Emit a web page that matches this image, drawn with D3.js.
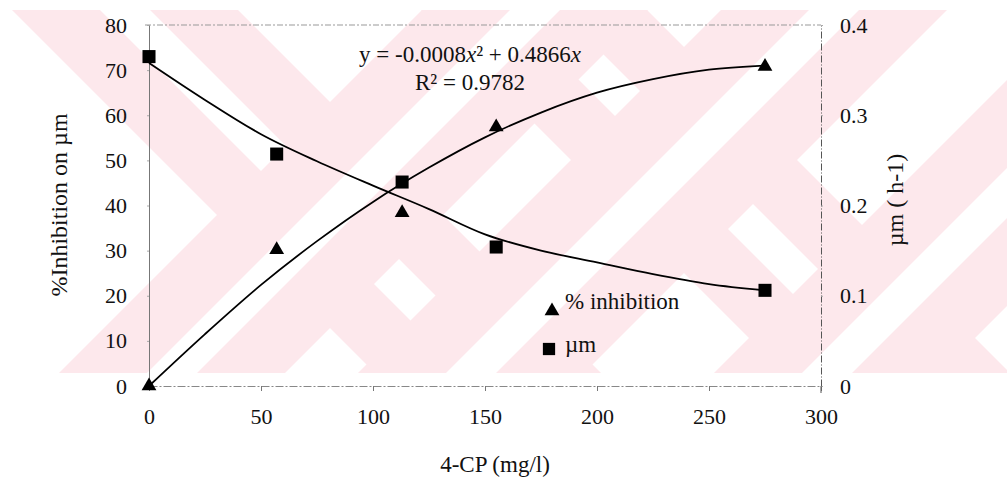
<!DOCTYPE html>
<html>
<head>
<meta charset="utf-8">
<script src="https://cdn.jsdelivr.net/npm/d3@7"></script>
<style>
  html, body { margin: 0; padding: 0; background: #fff; }
  svg { display: block; }
  text { font-family: "Liberation Serif", "Times New Roman", Times, serif; fill: #111; }
</style>
</head>
<body>
<svg id="chart" width="1007" height="485"></svg>
<script>
// ---------------- data ----------------
const concentration = [0, 57, 113, 155, 275];              // 4-CP (mg/l)
const inhibition    = [0, 30.2, 38.4, 57.4, 70.8];         // % inhibition on µm
const muValues      = [0.365, 0.257, 0.226, 0.154, 0.106]; // µm (h-1)

// fitted curves, as drawn in the picture
const inhibTrendX = [0, 25, 50, 75, 100, 125, 150, 175, 200, 225, 250, 275];
const inhibTrendY = [0, 11.5, 22.4, 32.1, 40.8, 48.4, 55.1, 60.6, 65.0, 68.0, 70.1, 71.0];
const muTrendX    = [0, 25, 50, 75, 100, 125, 150, 175, 200, 225, 250, 275];
const muTrendY    = [0.358, 0.317, 0.279, 0.249, 0.222, 0.196, 0.168, 0.150, 0.137, 0.124, 0.113, 0.106];

const xTicks      = [0, 50, 100, 150, 200, 250, 300];
const leftTicks   = [0, 10, 20, 30, 40, 50, 60, 70, 80];
const rightTicks  = [0, 0.1, 0.2, 0.3, 0.4];
const rightTickLabels = ["0", "0.1", "0.2", "0.3", "0.4"];

const xTitle      = "4-CP (mg/l)";
const leftTitle   = "%Inhibition on µm";
const rightTitle  = "µm ( h-1)";
const legendNames = ["% inhibition", "µm"];
const eqLine1     = ["y = -0.0008", "x", "² + 0.4866", "x"];
const eqLine2     = "R² = 0.9782";

// ---------------- setup ----------------
const svg = d3.select("#chart");
const W = 1007;
const FONT = "Liberation Serif, Times New Roman, Times, serif";

// watermark (decorative background)
const pink = "#fde8ec";
const wm = svg.append("g");
svg.append("defs").append("clipPath").attr("id", "wmclip")
  .append("rect").attr("x", 0).attr("y", 10).attr("width", W).attr("height", 363);
wm.attr("clip-path", "url(#wmclip)");
const Y0 = -600, Y1 = 1100;
function bandDown(c, hw) { // centre line x - y = c
  return [[Y0 + c - hw, Y0], [Y0 + c + hw, Y0], [Y1 + c + hw, Y1], [Y1 + c - hw, Y1]];
}
function bandUp(c, hw) {   // centre line x + y = c
  return [[c - Y0 - hw, Y0], [c - Y0 + hw, Y0], [c - Y1 + hw, Y1], [c - Y1 - hw, Y1]];
}
const downBands = [115, 524];
const upBands = [545, 844, 1200];
const poly = d3.line();
downBands.forEach(c => wm.append("path").attr("d", poly(bandDown(c, 113)) + "Z").attr("fill", pink));
downBands.forEach(c => wm.append("path").attr("d", poly(bandDown(c, 25)) + "Z").attr("fill", "#fff"));
upBands.forEach(c => wm.append("path").attr("d", poly(bandUp(c, 113)) + "Z").attr("fill", pink));
upBands.forEach(c => wm.append("path").attr("d", poly(bandUp(c, 25)) + "Z").attr("fill", "#fff"));

// scales
const x  = d3.scaleLinear().domain([0, 300]).range([149, 821]);
const yL = d3.scaleLinear().domain([0, 80]).range([386, 25]);
const yR = d3.scaleLinear().domain([0, 0.4]).range([386, 25]);

// frame line on top
svg.append("line").attr("x1", 145).attr("x2", 821).attr("y1", 25).attr("y2", 25)
  .attr("stroke", "#999").attr("stroke-width", 1).attr("stroke-dasharray", "6,2,2,2");

// bottom axis
const gx = svg.append("g").attr("transform", "translate(0,386)")
  .call(d3.axisBottom(x).tickValues(xTicks).tickSize(5).tickSizeOuter(0).tickPadding(17));
gx.attr("font-family", FONT);
gx.select(".domain").attr("stroke", "#888").attr("stroke-dasharray", "8,2,2,2");
gx.selectAll(".tick line").attr("stroke", "#777");
gx.selectAll(".tick text").attr("font-size", 22).attr("fill", "#111");

// left axis
const gl = svg.append("g").attr("transform", "translate(149,0)")
  .call(d3.axisLeft(yL).tickValues(leftTicks).tickSize(2).tickSizeOuter(0).tickPadding(20));
gl.attr("font-family", FONT);
gl.select(".domain").attr("stroke", "#777");
gl.selectAll(".tick line").attr("stroke", "#aaa");
gl.selectAll(".tick text").attr("font-size", 22).attr("fill", "#111");

// right axis
const gr = svg.append("g").attr("transform", "translate(821,0)")
  .call(d3.axisRight(yR).tickValues(rightTicks).tickFormat((d, i) => rightTickLabels[i])
        .tickSize(2).tickSizeOuter(0).tickPadding(17));
gr.attr("font-family", FONT);
gr.select(".domain").attr("stroke", "#555").attr("stroke-dasharray", "7,2,1,2");
gr.selectAll(".tick line").attr("stroke", "#aaa");
gr.selectAll(".tick text").attr("font-size", 22).attr("fill", "#111");
svg.append("line").attr("x1", 821).attr("x2", 821).attr("y1", 386).attr("y2", 393)
  .attr("stroke", "#555");

// trend curves
const curve = d3.line().curve(d3.curveMonotoneX);
svg.append("path")
  .attr("d", curve(inhibTrendX.map((v, i) => [x(v), yL(inhibTrendY[i])])))
  .attr("fill", "none").attr("stroke", "#000").attr("stroke-width", 1.8);
svg.append("path")
  .attr("d", curve(muTrendX.map((v, i) => [x(v), yR(muTrendY[i])])))
  .attr("fill", "none").attr("stroke", "#000").attr("stroke-width", 1.8);

// markers
const tri = d3.symbol().type(d3.symbolTriangle).size(95);
const sq  = d3.symbol().type(d3.symbolSquare).size(170);
svg.append("g").selectAll("path").data(concentration).join("path")
  .attr("d", tri).attr("fill", "#000")
  .attr("transform", (d, i) => `translate(${x(d)},${yL(inhibition[i])})`);
svg.append("g").selectAll("path").data(concentration).join("path")
  .attr("d", sq).attr("fill", "#000")
  .attr("transform", (d, i) => `translate(${x(d)},${yR(muValues[i])})`);

// legend
svg.append("path").attr("d", tri).attr("fill", "#000").attr("transform", "translate(552,311)");
svg.append("path").attr("d", d3.symbol().type(d3.symbolSquare).size(150)).attr("fill", "#000")
  .attr("transform", "translate(549,349)");
svg.append("text").attr("x", 565).attr("y", 309).attr("font-size", 23).text(legendNames[0]);
svg.append("text").attr("x", 565).attr("y", 352).attr("font-size", 23).text(legendNames[1]);

// equation
const eq = svg.append("text").attr("x", 470).attr("y", 62).attr("font-size", 23)
  .attr("text-anchor", "middle");
eq.append("tspan").text(eqLine1[0]);
eq.append("tspan").attr("font-style", "italic").text(eqLine1[1]);
eq.append("tspan").text(eqLine1[2]);
eq.append("tspan").attr("font-style", "italic").text(eqLine1[3]);
svg.append("text").attr("x", 470).attr("y", 90).attr("font-size", 23)
  .attr("text-anchor", "middle").text(eqLine2);

// titles
svg.append("text").attr("x", 495).attr("y", 472).attr("font-size", 23)
  .attr("text-anchor", "middle").text(xTitle);
svg.append("text").attr("transform", "translate(67,205) rotate(-90)").attr("font-size", 24)
  .attr("text-anchor", "middle").text(leftTitle);
svg.append("text").attr("transform", "translate(903,200) rotate(-90)").attr("font-size", 24)
  .attr("text-anchor", "middle").text(rightTitle);
</script>
</body>
</html>
